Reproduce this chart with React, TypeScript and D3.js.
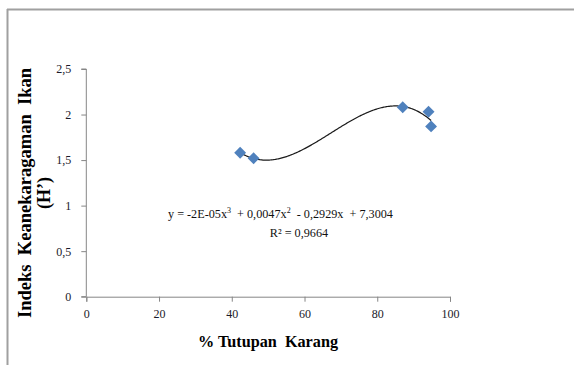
import { useEffect, useRef } from 'react';
import * as d3 from 'd3';

const coverX = [42.3, 46.0, 87.0, 94.1, 94.8];
const diversityY = [1.58, 1.52, 2.08, 2.03, 1.87];
const xTicks = [0, 20, 40, 60, 80, 100];
const yTicks = [0, 0.5, 1, 1.5, 2, 2.5];
const yTickLabels = ['0', '0,5', '1', '1,5', '2', '2,5'];

// least-squares cubic, like the Excel trendline
function cubicFit(xs: number[], ys: number[]) {
  const n = 4;
  const A = Array.from({ length: n }, () => new Array(n + 1).fill(0));
  xs.forEach((x, k) => {
    for (let i = 0; i < n; i++) {
      for (let j = 0; j < n; j++) A[i][j] += Math.pow(x, i + j);
      A[i][n] += ys[k] * Math.pow(x, i);
    }
  });
  for (let c = 0; c < n; c++) {
    let p = c;
    for (let r = c + 1; r < n; r++) if (Math.abs(A[r][c]) > Math.abs(A[p][c])) p = r;
    [A[c], A[p]] = [A[p], A[c]];
    for (let r = 0; r < n; r++) {
      if (r === c) continue;
      const f = A[r][c] / A[c][c];
      for (let k = c; k <= n; k++) A[r][k] -= f * A[c][k];
    }
  }
  const coef = A.map((row, i) => row[n] / row[i]);
  return (x: number) => coef.reduce((s, c, i) => s + c * Math.pow(x, i), 0);
}

export default function App() {
  const svgRef = useRef<SVGSVGElement>(null);

  useEffect(() => {
    if (!svgRef.current) return;
    const svg = d3.select(svgRef.current);
    svg.selectAll('*').remove();

    const x = d3.scaleLinear().domain([0, 100]).range([86.3, 450]);
    const y = d3.scaleLinear().domain([0, 2.5]).range([296.7, 69]);
    const axisColor = '#868686';
    const font = '"Liberation Serif", "Times New Roman", serif';

    // chart frame (only top and left visible)
    svg.append('line').attr('x1', 7).attr('x2', 574).attr('y1', 9.5).attr('y2', 9.5)
      .attr('stroke', '#a0a0a0').attr('stroke-width', 2);
    svg.append('line').attr('x1', 7.5).attr('x2', 7.5).attr('y1', 9).attr('y2', 365)
      .attr('stroke', '#a0a0a0').attr('stroke-width', 2);

    const g = svg.append('g');

    const yAxis = g.append('g')
      .attr('transform', `translate(${x(0)},0)`)
      .call(d3.axisLeft(y).tickValues(yTicks).tickSize(5).tickPadding(10)
        .tickFormat((_, i) => yTickLabels[i]))
      .call(s => s.select('.domain').attr('stroke', axisColor))
      .call(s => s.selectAll('.tick line').attr('stroke', axisColor))
      .call(s => s.selectAll('.tick text').attr('fill', '#1a1a2a')
        .attr('font-family', font).attr('font-size', 12));
    yAxis.select('.domain').attr('d', `M-5,${y(2.5)}H0V${y(0)}H-5`);

    g.append('g')
      .attr('transform', `translate(0,${y(0)})`)
      .call(d3.axisBottom(x).tickValues(xTicks).tickSize(5).tickPadding(8).tickSizeOuter(5))
      .call(s => s.select('.domain').attr('stroke', axisColor))
      .call(s => s.selectAll('.tick line').attr('stroke', axisColor))
      .call(s => s.selectAll('.tick text').attr('fill', '#1a1a2a')
        .attr('font-family', font).attr('font-size', 12));

    // trendline
    const fit = cubicFit(coverX, diversityY);
    const xs = d3.range(d3.min(coverX)!, d3.max(coverX)! + 0.01, 0.25);
    const line = d3.line<number>().x(d => x(d)).y(d => y(fit(d)));
    g.append('path').attr('d', line(xs)).attr('fill', 'none')
      .attr('stroke', '#1a1a1a').attr('stroke-width', 1.2);

    // markers
    const diamond = d3.symbol().type(d3.symbolDiamond2).size(90);
    g.selectAll('path.pt').data(coverX).join('path')
      .attr('class', 'pt')
      .attr('d', diamond())
      .attr('transform', (d, i) => `translate(${x(d)},${y(diversityY[i])})`)
      .attr('fill', '#4f81bd');

    // equation
    const eq = g.append('text').attr('x', 168).attr('y', 218)
      .attr('font-family', font).attr('font-size', 12.2).attr('fill', '#111')
      .attr('xml:space', 'preserve');
    eq.append('tspan').text('y = -2E-05x');
    eq.append('tspan').attr('dy', -5).attr('font-size', 8).text('3');
    eq.append('tspan').attr('dy', 5).text('  + 0,0047x');
    eq.append('tspan').attr('dy', -5).attr('font-size', 8).text('2');
    eq.append('tspan').attr('dy', 5).text('  - 0,2929x  + 7,3004');
    g.append('text').attr('x', 299).attr('y', 237).attr('text-anchor', 'middle')
      .attr('font-family', font).attr('font-size', 12.2).attr('fill', '#111')
      .text('R² = 0,9664');

    // axis titles
    g.append('text').attr('x', 268).attr('y', 346.5).attr('text-anchor', 'middle')
      .attr('font-family', font).attr('font-size', 17).attr('font-weight', 'bold')
      .attr('xml:space', 'preserve').attr('textLength', 140).attr('lengthAdjust', 'spacingAndGlyphs')
      .text('% Tutupan  Karang');

    const yt = g.append('text').attr('transform', 'translate(0,193) rotate(-90)')
      .attr('text-anchor', 'middle').attr('font-family', font).attr('font-size', 18)
      .attr('font-weight', 'bold').attr('xml:space', 'preserve');
    yt.append('tspan').attr('x', 0).attr('y', 30.5)
      .attr('textLength', 250).attr('lengthAdjust', 'spacingAndGlyphs')
      .text('Indeks  Keanekaragaman  Ikan');
    yt.append('tspan').attr('x', 0).attr('y', 50).text('(H’)');
  }, []);

  return (
    <svg ref={svgRef} width={574} height={365}
      style={{ position: 'absolute', left: 0, top: 0, background: '#fff' }} />
  );
}
